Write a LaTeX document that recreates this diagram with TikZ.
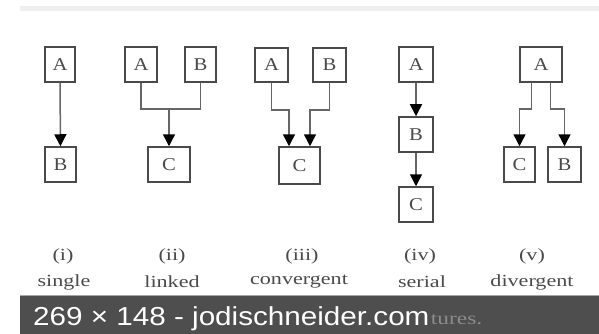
\documentclass[tikz,border=0pt]{standalone}
\usepackage{fontspec}
\setmainfont{Liberation Serif}
\newfontfamily\barfont{Liberation Sans}
\usetikzlibrary{arrows.meta,calc}
\definecolor{ink}{HTML}{4A4A4A}
\definecolor{wire}{HTML}{666666}
\definecolor{barbg}{HTML}{4E4E4E}
\definecolor{topbar}{HTML}{EFEFEF}
\definecolor{dimtext}{HTML}{8C8C8C}
\newcommand{\wide}[2]{\scalebox{#1}[1]{#2}}
\tikzset{
  box/.style={draw=ink, line width=1.5pt, fill=white, inner sep=0pt,
    minimum height=35pt, font=\fontsize{18}{18}\selectfont, text=ink},
  link/.style={draw=wire, line width=1.5pt},
  arr/.style={link, -{Triangle[width=12pt,length=12pt,fill=black,color=black]}},
  lab/.style={font=\fontsize{17}{17}\selectfont, text=ink, inner sep=0pt}
}
\begin{document}
\begin{tikzpicture}[x=1pt,y=-1pt]
\useasboundingbox (0,0) rectangle (599,334);
\fill[white] (0,0) rectangle (599,334);
\fill[topbar] (20,6) rectangle (599,11);
% (i) single
\node[box, minimum width=30pt] (A1) at (60,64.5) {\wide{1.15}{A}};
\node[box, minimum width=31pt] (B1) at (60.5,164.5) {\wide{1.15}{B}};
\draw[arr] (A1) -- (B1);
% (ii) linked
\node[box, minimum width=32pt] (A2) at (141,64.5) {\wide{1.15}{A}};
\node[box, minimum width=31pt] (B2) at (200.5,64.5) {\wide{1.15}{B}};
\node[box, minimum width=42pt] (C2) at (169,164.5) {\wide{1.15}{C}};
\coordinate (j2) at (169,109);
\draw[link] (A2.south) |- (j2) -| (B2.south);
\draw[arr] (j2) -- (C2.north);
% (iii) convergent
\node[box, minimum width=33pt, minimum height=34pt] (A3) at (271.5,65) {\wide{1.15}{A}};
\node[box, minimum width=33pt, minimum height=34pt] (B3) at (329.5,65) {\wide{1.15}{B}};
\node[box, minimum width=41pt, minimum height=37pt] (C3) at (299.5,165.5) {\wide{1.15}{C}};
\coordinate (lvl3) at (0,110);
\coordinate (c3l) at ($(C3.north)+(-10.5,0)$);
\coordinate (c3r) at ($(C3.north)+(10.5,0)$);
\draw[arr] (A3.south) -- (A3.south |- lvl3) -| (c3l);
\draw[arr] (B3.south) -- (B3.south |- lvl3) -| (c3r);
% (iv) serial
\node[box, minimum width=34pt] (A4) at (416,64.5) {\wide{1.15}{A}};
\node[box, minimum width=34pt] (B4) at (416,134.5) {\wide{1.15}{B}};
\node[box, minimum width=34pt] (C4) at (416,204.5) {\wide{1.15}{C}};
\draw[arr] (A4) -- (B4);
\draw[arr] (B4) -- (C4);
% (v) divergent
\node[box, minimum width=42pt] (A5) at (541,64.5) {\wide{1.15}{A}};
\node[box, minimum width=31pt] (C5) at (519.5,164.5) {\wide{1.15}{C}};
\node[box, minimum width=33pt] (B5) at (564.5,164.5) {\wide{1.15}{B}};
\coordinate (lvl5) at (0,109);
\coordinate (a5l) at ($(A5.south)+(-9.5,0)$);
\coordinate (a5r) at ($(A5.south)+(9.5,0)$);
\draw[arr] (a5l) -- (a5l |- lvl5) -| (C5.north);
\draw[arr] (a5r) -- (a5r |- lvl5) -| (B5.north);
% labels
\node[lab] (n1) at (63,256) {\wide{1.3}{(i)}};
\node[lab] (w1) at (64,282) {\wide{1.3}{single}};
\node[lab] (n2) at (172,256) {\wide{1.3}{(ii)}};
\node[lab] (w2) at (172,282) {\wide{1.3}{linked}};
\node[lab] (n3) at (302,256) {\wide{1.3}{(iii)}};
\node[lab] (w3) at (299,282) {\wide{1.3}{convergent}};
\node[lab] (n4) at (420,256) {\wide{1.3}{(iv)}};
\node[lab] (w4) at (422,282) {\wide{1.3}{serial}};
\node[lab] (n5) at (532,256) {\wide{1.3}{(v)}};
\node[lab] (w5) at (532,282) {\wide{1.3}{divergent}};
% bottom bar
\fill[barbg] (20,295) rectangle (599,334);
\draw[line width=1pt, color=gray!70] (20,295.5) -- (599,295.5);
\node[anchor=base west, inner sep=0pt, text=white, font=\barfont\fontsize{26}{26}\selectfont] (cap) at (33,325) {\wide{1.14}{269 × 148 - jodischneider.com}};
\node[anchor=base west, inner sep=0pt, text=dimtext, font=\fontsize{18}{18}\selectfont] (tail) at ($(cap.base east)+(1,-1)$) {\wide{1.3}{tures.}};
\end{tikzpicture}
\end{document}
